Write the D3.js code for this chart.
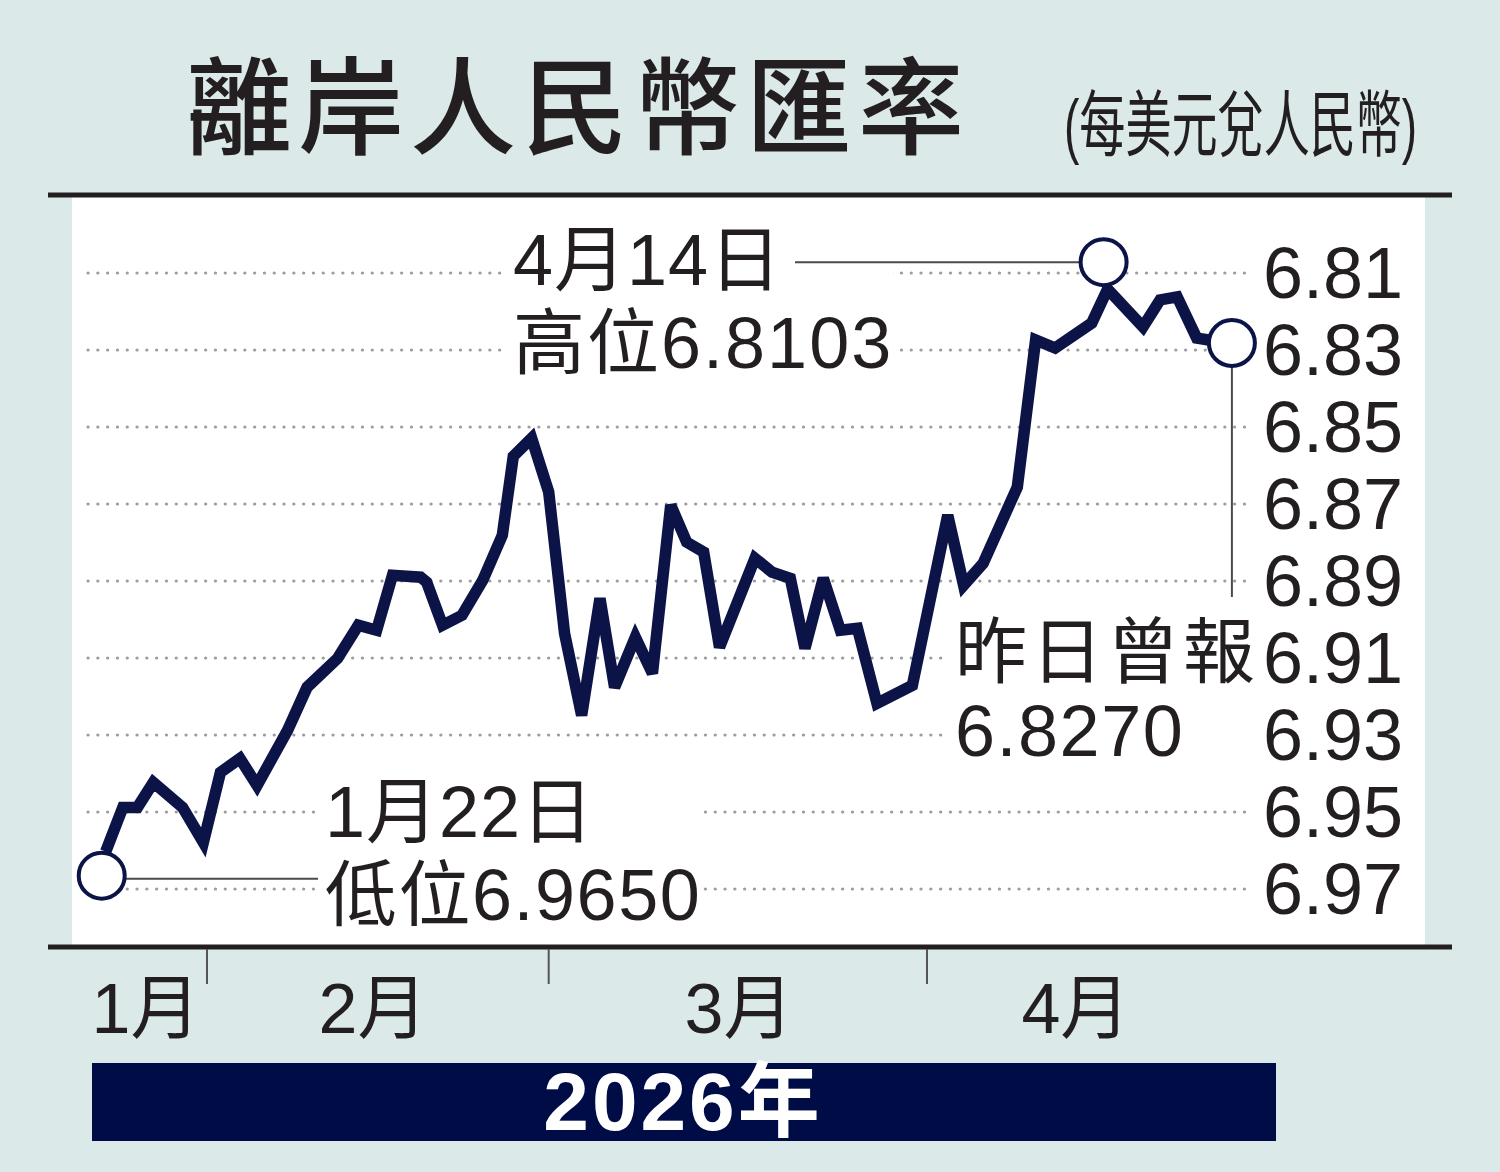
<!doctype html>
<html lang="zh-Hant">
<head>
<meta charset="utf-8" />
<title>離岸人民幣匯率</title>
<script src="https://cdn.jsdelivr.net/npm/d3@7/dist/d3.min.js"></script>
<style>
	html, body {
		margin: 0;
		padding: 0;
		background: #dbe9e9;
	}
	svg {
		display: block;
	}
	.num {
		font-family: "Liberation Sans", Arial, "Noto Sans CJK TC", sans-serif;
		fill: #231f20;
	}
</style>
</head>
<body>
<svg id="chart" width="1500" height="1172"></svg>
<script>
// day of year (1 Jan = 1)
var days = [23.7, 25.1, 26.3, 27.6, 30.0, 31.7, 33.1, 34.7, 36.1, 38.6,
	40.2, 42.7, 44.4, 45.9, 47.2, 49.5, 50.0, 51.3, 52.9, 54.6,
	56.2, 57.1, 58.6, 60.0, 61.3, 62.7, 64.2, 65.4, 67.1, 68.5,
	70.0, 71.3, 72.7, 74.0, 76.9, 78.3, 79.8, 81.0, 82.5, 83.9,
	85.3, 86.9, 89.8, 92.7, 94.0, 95.6, 98.4, 99.9, 101.5, 104.5,
	105.8, 108.7, 110.1, 111.5, 113.1, 114.1];
// CNH per USD
var rates = [6.9603, 6.9488, 6.9488, 6.9423, 6.9488, 6.9579, 6.9397, 6.9361, 6.9431, 6.9288,
	6.9176, 6.9101, 6.9015, 6.9028, 6.8885, 6.8890, 6.8903, 6.9015, 6.8989, 6.8898,
	6.8781, 6.8576, 6.8529, 6.8669, 6.9036, 6.9249, 6.8945, 6.9176, 6.9046, 6.9140,
	6.8703, 6.8799, 6.8825, 6.9072, 6.8841, 6.8877, 6.8893, 6.9075, 6.8893, 6.9028,
	6.9023, 6.9218, 6.9171, 6.8729, 6.8911, 6.8854, 6.8656, 6.8274, 6.8295, 6.8230,
	6.8142, 6.8240, 6.8170, 6.8162, 6.8269, 6.8274];

var yTicks = [6.81, 6.83, 6.85, 6.87, 6.89, 6.91, 6.93, 6.95, 6.97];
var monthStarts = [32, 60, 91];          // 1 Feb, 1 Mar, 1 Apr
var monthNames = ["1月", "2月", "3月", "4月"];
var monthLabelDays = [27.0, 45.6, 75.6, 103.2];

var highText = ["4月14日", "高位6.8103"];
var lowText = ["1月22日", "低位6.9650"];
var lastText = ["昨日曾報", "6.8270"];

var title = "離岸人民幣匯率";
var subtitle = "(每美元兌人民幣)";
var yearText = "2026年";

var ink = "#231f20", navy = "#0b1347";

var svg = d3.select("#chart");

var x = d3.scaleLinear().domain([32, 91]).range([207, 927]);
var y = d3.scaleLinear().domain([6.81, 6.97]).range([273, 889]);

var pts = days.map(function (d, i) { return { d: d, v: rates[i] }; });

// white plot panel and frame lines
svg.append("rect").attr("x", 72).attr("y", 197).attr("width", 1353).attr("height", 749).attr("fill", "#fff");
svg.append("line").attr("x1", 48).attr("x2", 1452).attr("y1", 195).attr("y2", 195)
	.attr("stroke", ink).attr("stroke-width", 5);
svg.append("line").attr("x1", 48).attr("x2", 1452).attr("y1", 947).attr("y2", 947)
	.attr("stroke", ink).attr("stroke-width", 5);

// title
svg.append("text").attr("x", 186).attr("y", 146)
	.style("font-family", "'Noto Sans CJK TC', sans-serif").style("font-weight", 500)
	.style("font-size", "106px").style("letter-spacing", "6px")
	.attr("fill", ink).text(title);
svg.append("text").attr("transform", "translate(1064,150) scale(0.64,1)")
	.style("font-family", "'Liberation Sans', 'Noto Sans CJK TC', sans-serif")
	.style("font-size", "72px")
	.attr("fill", ink).text(subtitle);

// dotted grid
var grid = svg.append("g");
grid.selectAll("line").data(yTicks).join("line")
	.attr("x1", 88).attr("x2", 1247)
	.attr("y1", function (d) { return y(d); }).attr("y2", function (d) { return y(d); })
	.attr("stroke", "#9d9d9d").attr("stroke-width", 3.2)
	.attr("stroke-linecap", "round").attr("stroke-dasharray", "0.1,9.7");

// y tick labels
svg.append("g").selectAll("text").data(yTicks).join("text")
	.attr("class", "num")
	.attr("x", 1263).attr("y", function (d) { return y(d) + 25; })
	.style("font-size", "72px")
	.text(function (d) { return d.toFixed(2); });

// month ticks and labels
svg.append("g").selectAll("line").data(monthStarts).join("line")
	.attr("x1", function (d) { return x(d); }).attr("x2", function (d) { return x(d); })
	.attr("y1", 949).attr("y2", 984)
	.attr("stroke", "#555").attr("stroke-width", 2);
svg.append("g").selectAll("text").data(monthNames).join("text")
	.attr("class", "num")
	.attr("x", function (d, i) { return x(monthLabelDays[i]); }).attr("y", 1033)
	.attr("text-anchor", "middle")
	.style("font-size", "70px")
	.text(function (d) { return d; });

// year banner
svg.append("rect").attr("x", 92).attr("y", 1063).attr("width", 1184).attr("height", 78).attr("fill", "#000c45");
svg.append("text").attr("x", 683).attr("y", 1130).attr("text-anchor", "middle")
	.style("font-family", "'Liberation Sans', 'Noto Sans CJK TC', sans-serif").style("font-weight", 700)
	.style("font-size", "82px").style("letter-spacing", "3px")
	.attr("fill", "#fff").text(yearText);

// label backgrounds (hide grid behind the notes)
var notes = svg.append("g");
notes.append("rect").attr("x", 505).attr("y", 225).attr("width", 388).attr("height", 155).attr("fill", "#fff");
notes.append("rect").attr("x", 318).attr("y", 775).attr("width", 385).attr("height", 150).attr("fill", "#fff");
notes.append("rect").attr("x", 948).attr("y", 605).attr("width", 300).attr("height", 160).attr("fill", "#fff");

// the rate line
var line = d3.line().x(function (p) { return x(p.d); }).y(function (p) { return y(p.v); });
svg.append("path").datum(pts)
	.attr("d", line)
	.attr("fill", "none").attr("stroke", navy).attr("stroke-width", 11.5)
	.attr("stroke-linejoin", "miter").attr("stroke-miterlimit", 3);

// markers: low, high, latest
var lowIdx = d3.maxIndex(rates), highIdx = d3.minIndex(rates), lastIdx = rates.length - 1;
var r = 23;
var lowC = { x: x(days[lowIdx]) - 4, y: y(rates[lowIdx]) + 24 };
var highC = { x: x(days[highIdx]) - 4, y: y(rates[highIdx]) - 27 };
var lastC = { x: x(days[lastIdx]) + 23, y: y(rates[lastIdx]) + 3 };

var leader = svg.append("g").attr("stroke", "#4a4a4a").attr("stroke-width", 2);
leader.append("line").attr("x1", 795).attr("x2", highC.x - r).attr("y1", highC.y).attr("y2", highC.y);
leader.append("line").attr("x1", lowC.x + r).attr("x2", 318).attr("y1", lowC.y + 3).attr("y2", lowC.y + 3);
leader.append("line").attr("x1", lastC.x).attr("x2", lastC.x).attr("y1", lastC.y + r).attr("y2", 597);

svg.append("g").selectAll("circle").data([lowC, highC, lastC]).join("circle")
	.attr("cx", function (c) { return c.x; }).attr("cy", function (c) { return c.y; })
	.attr("r", r)
	.attr("fill", "#fff").attr("stroke", navy).attr("stroke-width", 4);

// annotation text
function note(lines, x0, y0, y1, sp0, sp1) {
	var t = svg.append("g").attr("class", "num").style("font-size", "72px");
	t.append("text").attr("x", x0).attr("y", y0).style("letter-spacing", sp0).text(lines[0]);
	t.append("text").attr("x", x0).attr("y", y1).style("letter-spacing", sp1).text(lines[1]);
}
note(highText, 513, 285, 368, "1px", "2px");
note(lowText, 325, 837, 920, "1px", "1.5px");
note(lastText, 955, 677, 756, "4px", "1.5px");
</script>
</body>
</html>
